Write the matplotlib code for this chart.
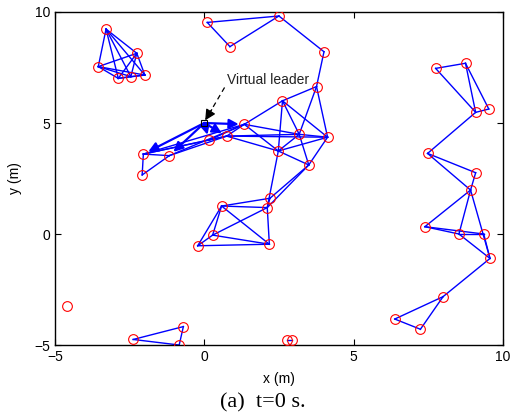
import matplotlib
matplotlib.use("Agg")
import matplotlib.pyplot as plt
import itertools

# Follower positions at t=0 (m)
node_x = [-3.29, -2.26, -3.55, -2.88, -2.46, -1.99,
          0.10, 2.50, 0.86, 4.01, 3.76, 2.62, 1.34, 3.18, 4.13, 2.48, 3.50,
          0.75, 0.16, -1.17, -2.04, -2.08, 2.20, 2.11, 0.58, 0.28, -0.22, 2.18,
          7.75, 8.75, 9.09, 9.53, 7.48, 9.09, 8.92, 7.39, 8.53, 9.36, 9.57,
          8.00, 6.38, 7.24,
          -4.59, -2.38, -0.70, -0.84, 2.78, 2.95]
node_y = [9.23, 8.14, 7.54, 7.01, 7.09, 7.16,
          9.53, 9.82, 8.44, 8.21, 6.64, 6.00, 4.94, 4.49, 4.36, 3.74, 3.11,
          4.41, 4.23, 3.53, 3.60, 2.66, 1.61, 1.19, 1.26, -0.05, -0.53, -0.46,
          7.46, 7.69, 5.48, 5.63, 3.63, 2.76, 1.98, 0.33, 0.00, 0.00, -1.10,
          -2.82, -3.83, -4.29,
          -3.24, -4.75, -4.17, -5.00, -4.77, -4.77]

# Communication links (node index pairs)
edges = list(itertools.combinations(range(6), 2)) + [
    (6, 7), (6, 8), (8, 7), (7, 9), (9, 10), (10, 11), (11, 12), (11, 13),
    (11, 14), (11, 15), (10, 13), (10, 14), (12, 13), (12, 15), (17, 13),
    (17, 14), (15, 13), (15, 14), (15, 16), (13, 14), (13, 16), (14, 16),
    (15, 23), (16, 22), (16, 23), (22, 23), (22, 24), (23, 24), (24, 25),
    (24, 26), (24, 27), (23, 25), (23, 27), (25, 27), (26, 27), (25, 26),
    (17, 15), (20, 19), (21, 19), (20, 21), (20, 18), (20, 17), (20, 12),
    (19, 17), (19, 12), (18, 12), (18, 17), (17, 12),
    (28, 29), (28, 30), (29, 30), (29, 31), (30, 31), (30, 32), (32, 33),
    (32, 34), (33, 34), (34, 35), (34, 36), (34, 38), (35, 36), (35, 37),
    (36, 37), (36, 38), (37, 38), (38, 39), (39, 40), (39, 41), (40, 41),
    (43, 44), (43, 45), (44, 45), (46, 47)]

# Virtual leader and the followers it informs
leader = (0.0, 5.0)
informed = [12, 17, 18, 19, 20]

xticks = [-5, 0, 5, 10]
yticks = [-5, 0, 5, 10]

plt.rcParams['font.family'] = ['Liberation Sans', 'DejaVu Sans']
fig = plt.figure(figsize=(5.11, 4.18), dpi=100)
ax = fig.add_axes([0.1076, 0.1746, 0.8764, 0.7967])

for i, j in edges:
    ax.plot([node_x[i], node_x[j]], [node_y[i], node_y[j]], '-',
            color='#0000ff', lw=1.0, zorder=2)

for k in informed:
    ax.annotate('', xy=(node_x[k], node_y[k]), xytext=leader,
                arrowprops=dict(arrowstyle='-|>', color='#0000ff', lw=1.6,
                                mutation_scale=14, shrinkA=0, shrinkB=4),
                zorder=3)

ax.plot(node_x, node_y, 'o', mfc='none', mec='#ff0000', ms=7, mew=0.8,
        zorder=4)
ax.plot([leader[0]], [leader[1]], 's', mfc='none', mec='k', ms=5, mew=0.8,
        zorder=5)

# Label for the virtual leader
ax.plot([0.68, 0.2], [6.6, 5.5], '--', color='k', lw=0.9, dashes=(4, 3))
ax.annotate('', xy=(0.03, 5.12), xytext=(0.25, 5.6),
            arrowprops=dict(arrowstyle='-|>', color='k', lw=0.9,
                            mutation_scale=16, shrinkA=0, shrinkB=0))
ax.text(0.75, 6.95, 'Virtual leader', fontsize=10, color='#222222',
        va='center', ha='left')

ax.set_xlim(-5, 10)
ax.set_ylim(-5, 10)
ax.set_xticks(xticks)
ax.set_yticks(yticks)
ax.tick_params(direction='in', labelsize=10, length=4, width=0.8, top=True,
               right=True, labeltop=False, labelright=False)
for s in ax.spines.values():
    s.set_linewidth(1.0)
ax.set_xlabel('x (m)', fontsize=10, labelpad=6)
ax.set_ylabel('y (m)', fontsize=10, labelpad=9)

fig.text(0.515, 0.036, '(a)  t=0 s.', fontsize=16, ha='center', va='center',
         family=['Liberation Serif', 'DejaVu Serif'])

fig.savefig('out.png', dpi=100)
